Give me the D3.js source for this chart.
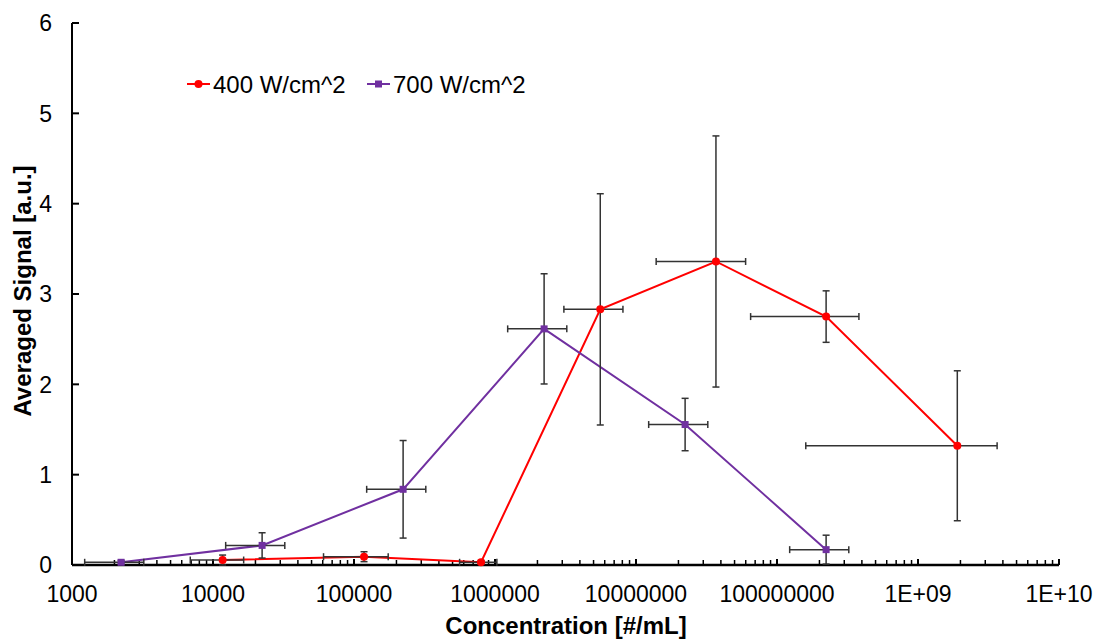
<!DOCTYPE html>
<html>
<head>
<meta charset="utf-8">
<script src="https://cdn.jsdelivr.net/npm/d3@7"></script>
<style>
  body { margin: 0; background: #fff; }
  text { font-family: Arial, "Liberation Sans", sans-serif; }
</style>
</head>
<body>
<div id="drawing_region"></div>
<script>
// 400 W/cm^2 series
const conc400 = [11700, 117800, 796000, 5580000, 36900000, 223000000, 1900000000];
const sig400 = [0.055, 0.092, 0.03, 2.83, 3.36, 2.75, 1.32];
const yerr400 = [0.055, 0.055, 0.02, 1.28, 1.39, 0.285, 0.83];
const xerr400 = [4800, 57000, 235000, 2500000, 23000000, 158000000, 1740000000];

// 700 W/cm^2 series
const conc700 = [2230, 22300, 223000, 2230000, 22300000, 223000000];
const sig700 = [0.03, 0.217, 0.838, 2.614, 1.555, 0.17];
const yerr700 = [0.02, 0.14, 0.54, 0.61, 0.29, 0.16];
const xerr700 = [1000, 10000, 100000, 1000000, 10000000, 100000000];

const xTicks = [1e3, 1e4, 1e5, 1e6, 1e7, 1e8, 1e9, 1e10];
const xTickLabels = ['1000', '10000', '100000', '1000000', '10000000', '100000000', '1E+09', '1E+10'];
const yTicks = [0, 1, 2, 3, 4, 5, 6];

const seriesNames = ['400 W/cm^2', '700 W/cm^2'];
const seriesColors = ['#ff0000', '#7030a0'];

const series = [
    { name: seriesNames[0], color: seriesColors[0], shape: 'circle',
      pts: conc400.map((c, i) => ({ x: c, y: sig400[i], ex: xerr400[i], ey: yerr400[i] })) },
    { name: seriesNames[1], color: seriesColors[1], shape: 'square',
      pts: conc700.map((c, i) => ({ x: c, y: sig700[i], ex: xerr700[i], ey: yerr700[i] })) }
];

const width = 1098, height = 639;
const margin = { top: 23, right: 39, bottom: 74, left: 72 };
const inner_width = width - margin.left - margin.right;
const inner_height = height - margin.top - margin.bottom;

const svg = d3.select('#drawing_region')
    .append('svg')
    .attr('width', width)
    .attr('height', height);

const chart = svg.append('g')
    .attr('transform', `translate(${margin.left}, ${margin.top})`);

const xscale = d3.scaleLog().domain([1e3, 1e10]).range([0, inner_width]);
const yscale = d3.scaleLinear().domain([0, 6]).range([inner_height, 0]);

// y axis
chart.append('line')
    .attr('x1', 0).attr('x2', 0)
    .attr('y1', 0).attr('y2', inner_height)
    .attr('stroke', '#000').attr('stroke-width', 2);

chart.selectAll('.ytick').data(yTicks).join('line')
    .attr('class', 'ytick')
    .attr('x1', 0).attr('x2', 7)
    .attr('y1', d => yscale(d)).attr('y2', d => yscale(d))
    .attr('stroke', '#000').attr('stroke-width', 2);

chart.selectAll('.ylabel').data(yTicks).join('text')
    .attr('class', 'ylabel')
    .attr('x', -20)
    .attr('y', d => yscale(d))
    .attr('dy', '0.36em')
    .attr('text-anchor', 'end')
    .attr('font-size', 23)
    .text(d => d);

// x axis with minor ticks
const minorTicks = [];
for (let e = 3; e < 10; e++) {
    for (let m = 2; m <= 9; m++) minorTicks.push(m * Math.pow(10, e));
}

chart.selectAll('.xminor').data(minorTicks).join('line')
    .attr('class', 'xminor')
    .attr('x1', d => xscale(d)).attr('x2', d => xscale(d))
    .attr('y1', inner_height).attr('y2', inner_height - 5)
    .attr('stroke', '#000').attr('stroke-width', 1.5);

chart.selectAll('.xmajor').data(xTicks).join('line')
    .attr('class', 'xmajor')
    .attr('x1', d => xscale(d)).attr('x2', d => xscale(d))
    .attr('y1', inner_height).attr('y2', inner_height - 6)
    .attr('stroke', '#000').attr('stroke-width', 2);

chart.append('line')
    .attr('x1', 0).attr('x2', inner_width)
    .attr('y1', inner_height).attr('y2', inner_height)
    .attr('stroke', '#000').attr('stroke-width', 2.5);

chart.selectAll('.xlabel').data(xTicks).join('text')
    .attr('class', 'xlabel')
    .attr('x', d => xscale(d))
    .attr('y', inner_height + 37)
    .attr('text-anchor', 'middle')
    .attr('font-size', 23)
    .text((d, i) => xTickLabels[i]);

// axis titles
svg.append('text')
    .attr('x', 566)
    .attr('y', 634)
    .attr('text-anchor', 'middle')
    .attr('font-size', 24)
    .attr('font-weight', 'bold')
    .text('Concentration [#/mL]');

svg.append('text')
    .attr('transform', `translate(31, 291) rotate(-90)`)
    .attr('text-anchor', 'middle')
    .attr('font-size', 24)
    .attr('font-weight', 'bold')
    .text('Averaged Signal [a.u.]');

// series lines
const line = d3.line()
    .x(d => xscale(d.x))
    .y(d => yscale(d.y));

series.forEach(s => {
    chart.append('path')
        .attr('d', line(s.pts))
        .attr('fill', 'none')
        .attr('stroke', s.color)
        .attr('stroke-width', 2);
});

// error bars
const cap = 3.5;
const errColor = '#333';
series.forEach(s => {
    const g = chart.append('g');
    s.pts.forEach(p => {
        const cx = xscale(p.x), cy = yscale(p.y);
        const x0 = xscale(p.x - p.ex), x1 = xscale(p.x + p.ex);
        const y0 = yscale(p.y - p.ey), y1 = yscale(p.y + p.ey);
        g.append('line').attr('x1', x0).attr('x2', x1).attr('y1', cy).attr('y2', cy)
            .attr('stroke', errColor).attr('stroke-width', 1.5);
        [x0, x1].forEach(xx => g.append('line')
            .attr('x1', xx).attr('x2', xx).attr('y1', cy - cap).attr('y2', cy + cap)
            .attr('stroke', errColor).attr('stroke-width', 1.5));
        g.append('line').attr('x1', cx).attr('x2', cx).attr('y1', y0).attr('y2', y1)
            .attr('stroke', errColor).attr('stroke-width', 1.5);
        [y0, y1].forEach(yy => g.append('line')
            .attr('x1', cx - cap).attr('x2', cx + cap).attr('y1', yy).attr('y2', yy)
            .attr('stroke', errColor).attr('stroke-width', 1.5));
    });
});

// markers
function drawMarker(sel, shape, color) {
    if (shape === 'circle') {
        sel.append('circle').attr('r', 4).attr('fill', color);
    } else {
        sel.append('rect').attr('x', -3.5).attr('y', -3.5)
            .attr('width', 7).attr('height', 7).attr('fill', color);
    }
}

series.forEach(s => {
    chart.selectAll(null).data(s.pts).join('g')
        .attr('transform', d => `translate(${xscale(d.x)}, ${yscale(d.y)})`)
        .each(function() { drawMarker(d3.select(this), s.shape, s.color); });
});

// legend
const legendX = [187, 367];
series.forEach((s, i) => {
    const lg = svg.append('g').attr('transform', `translate(${legendX[i]}, 84)`);
    lg.append('line').attr('x1', 0).attr('x2', 23).attr('y1', 0).attr('y2', 0)
        .attr('stroke', s.color).attr('stroke-width', 2);
    lg.append('g').attr('transform', 'translate(11.5, 0)')
        .call(g => drawMarker(g, s.shape, s.color));
    lg.append('text').attr('x', 26).attr('y', 0).attr('dy', '0.36em')
        .attr('font-size', 24)
        .text(s.name);
});
</script>
</body>
</html>
